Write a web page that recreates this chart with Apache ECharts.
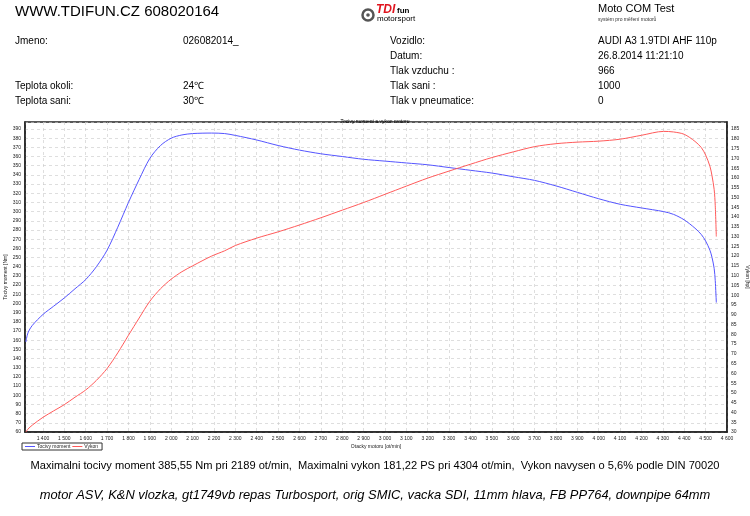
<!DOCTYPE html>
<html><head><meta charset="utf-8">
<script src="https://cdn.jsdelivr.net/npm/echarts@6/dist/echarts.min.js"></script>
<style>html,body{margin:0;padding:0;background:#fff}#c{width:750px;height:516px}</style>
</head><body><div id="c"></div>
<script>
// engine speed [ot/min]
const rpm = [1320,1330,1350,1400,1450,1500,1550,1600,1650,1700,1750,1800,1850,1900,1950,2000,2050,2100,2189,2250,2300,2400,2500,2600,2700,2800,2900,3000,3100,3200,3300,3400,3500,3600,3700,3800,3900,4000,4100,4200,4304,4350,4400,4450,4480,4500,4520,4530,4540,4545,4550];
// torque [Nm]
const torque = [158,168,176,188,197,206,216,226,240,258,283,310,335,358,372,380,383.5,385,385.55,385,383,378,372,367,363,360,357,355,353,351,348,345,342,338,334,328,321,314,308,304,300,297,291,282,275,268,258,250,238,225,201];
// power [hp]
const power = [30,31.5,33.5,37.5,40.8,44,47.8,51.5,56.4,62.5,70.5,79.5,88.3,96.9,103.3,108.2,112,115,120,122.7,125.4,129.2,132.4,135.9,139.6,143.5,147.4,151.6,155.8,159.9,163.5,167,170.4,173.3,176,177.5,178.3,178.8,179.8,181.8,183.8,183.5,182.3,178.7,175.5,171.7,166,161,154,146,130];
const legendNames = ['Tocivy moment','Vykon'];

const headerRows = [
  ['Jmeno:','026082014_','Vozidlo:','AUDI A3 1.9TDI AHF 110p'],
  ['','','Datum:','26.8.2014 11:21:10'],
  ['','','Tlak vzduchu :','966'],
  ['Teplota okoli:','24\u2103','Tlak sani :','1000'],
  ['Teplota sani:','30\u2103','Tlak v pneumatice:','0']
];
const footer1 = 'Maximalni tocivy moment 385,55 Nm pri 2189 ot/min,  Maximalni vykon 181,22 PS pri 4304 ot/min,  Vykon navysen o 5,6% podle DIN 70020';
const footer2 = 'motor ASV, K&N vlozka, gt1749vb repas Turbosport, orig SMIC, vacka SDI, 11mm hlava, FB PP764, downpipe 64mm';

const F = 'Liberation Sans, Arial, sans-serif';
const graphics = [];
graphics.push({type:'text', left:15, top:4, style:{text:'WWW.TDIFUN.CZ 608020164', font:'15px '+F, fill:'#000'}});
graphics.push({type:'text', left:598, top:3, style:{text:'Moto COM Test', font:'11px '+F, fill:'#000'}});
graphics.push({type:'text', left:598, top:17, style:{text:'systém pro měření motorů', font:'5px '+F, fill:'#333'}});
// logo
graphics.push({type:'circle', shape:{cx:368, cy:15, r:5.5}, style:{fill:'#fff', stroke:'#555', lineWidth:2.5}});
graphics.push({type:'circle', shape:{cx:368, cy:15, r:1.8}, style:{fill:'#555'}});
graphics.push({type:'text', left:376, top:4, style:{text:'TDI', font:'italic bold 12px '+F, fill:'#e0141e'}});
graphics.push({type:'text', left:397, top:7, style:{text:'fun', font:'bold 8px '+F, fill:'#000'}});
graphics.push({type:'text', left:377, top:15, style:{text:'motorsport', font:'8px '+F, fill:'#000'}});
const colX = [15,183,390,598];
const rowY = [42,57,72,87,102];
headerRows.forEach((r,i)=>{r.forEach((t,j)=>{ if(t) graphics.push({type:'text', left:colX[j], top:rowY[i]-6, style:{text:t, font:'10px '+F, fill:'#000'}}); });});
graphics.push({type:'text', left:'center', top:460, style:{text:footer1, font:'11.1px '+F, fill:'#000'}});
graphics.push({type:'text', left:'center', top:489, style:{text:footer2, font:'italic 12.9px '+F, fill:'#000'}});

const chart = echarts.init(document.getElementById('c'), null, {renderer:'canvas'});
const small = {fontSize:5, color:'#222', fontFamily:F};
const split = {show:true, lineStyle:{color:'#c8c8c8', type:[3,3], width:0.6}};
chart.setOption({
  animation:false,
  backgroundColor:'#fff',
  title:{text:'Tocivy moment a vykon motoru', left:'center', top:114, textStyle:{fontSize:5, fontWeight:'normal', color:'#000', fontFamily:F}},
  legend:{data:legendNames, left:22, top:443, orient:'horizontal', borderColor:'#333', borderWidth:1, padding:[1,4,1,3], itemGap:2, itemWidth:10, itemHeight:1, icon:'rect', textStyle:{fontSize:5, color:'#222', fontFamily:F, padding:[0,0,0,-3]}},
  grid:{left:25, right:23, top:122, bottom:84, show:true, borderColor:'#222', borderWidth:1.5, containLabel:false, outerBoundsMode:'none'},
  xAxis:{type:'value', min:1316, max:4600, splitNumber:33, minInterval:100, maxInterval:100,
    name:'Otacky motoru [ot/min]', nameLocation:'middle', nameGap:12, nameMoveOverlap:false, nameTextStyle:small,
    axisLine:{show:true, lineStyle:{color:'#222', width:1.5}}, axisTick:{show:false},
    axisLabel:Object.assign({margin:4, showMinLabel:false, formatter:v=>{const s=String(Math.round(v)); return s.length>3? s.slice(0,s.length-3)+' '+s.slice(-3):s;}}, small),
    splitLine:split},
  yAxis:[
    {type:'value', min:60, max:397.6, interval:10, position:'left',
     name:'Tocivy moment [Nm]', nameLocation:'middle', nameGap:17, nameMoveOverlap:false, nameRotate:90, nameTextStyle:small,
     axisLine:{show:true, lineStyle:{color:'#222', width:1.5}}, axisTick:{show:false},
     axisLabel:Object.assign({margin:4, showMaxLabel:false}, small), splitLine:split},
    {type:'value', min:30, max:188.6, interval:5, position:'right',
     name:'Vykon [hp]', nameLocation:'middle', nameGap:18, nameMoveOverlap:false, nameRotate:-90, nameTextStyle:small,
     axisLine:{show:true, lineStyle:{color:'#222', width:1.5}}, axisTick:{show:false},
     axisLabel:Object.assign({margin:4, showMaxLabel:false}, small), splitLine:{show:false}}
  ],
  series:[
    {name:legendNames[0], type:'line', yAxisIndex:0, smooth:0.3, symbol:'none', data:rpm.map((r,i)=>[r,torque[i]]), lineStyle:{color:'#5555ff', width:1}, itemStyle:{color:'#5555ff'}},
    {name:legendNames[1], type:'line', yAxisIndex:1, smooth:0.3, symbol:'none', data:rpm.map((r,i)=>[r,power[i]]), lineStyle:{color:'#ff5a5a', width:1}, itemStyle:{color:'#ff5a5a'}}
  ],
  graphic:graphics
});
</script></body></html>
